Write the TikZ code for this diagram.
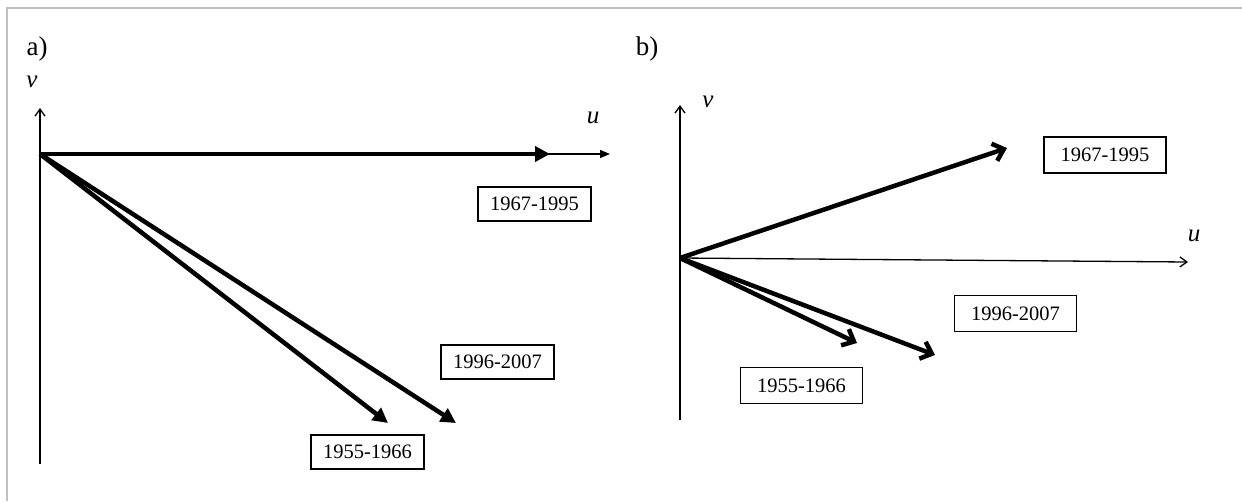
\documentclass[tikz,border=0pt]{standalone}
\usepackage{fontspec}
\setmainfont{Liberation Serif}
\usetikzlibrary{arrows.meta}
\begin{document}
\begin{tikzpicture}[x=1pt,y=-1pt,
  thinaxis/.style={line width=1.3pt,-{Straight Barb[length=7pt,width=10pt]}},
  thinfill/.style={line width=1.3pt,-{Triangle[length=10pt,width=8pt]}},
  thickvec/.style={line width=4.5pt,-{Triangle[length=15pt,width=15pt]}},
  thickbarb/.style={line width=4.5pt,-{Straight Barb[length=10pt,width=18pt,line width=4.5pt]}},
  yearbox/.style={draw,line width=1.1pt,inner sep=0pt,font=\fontsize{20.5}{24}\selectfont,minimum width=113pt,minimum height=34pt},
  lab/.style={font=\fontsize{27}{30}\selectfont,inner sep=0pt},
  axlab/.style={font=\fontsize{25}{28}\selectfont\itshape,inner sep=0pt}]
\useasboundingbox (0,0) rectangle (1242,501);
\draw[line width=1.6pt,color={rgb,255:red,192;green,192;blue,192}] (7,501) -- (7,8) -- (1242,8);
% panel a
\coordinate (oa) at (40,154);
\coordinate (va0) at (40,464);
\coordinate (va) at (40,108);
\coordinate (ua) at (610,154);
\coordinate (ta1) at (550,154);
\coordinate (ta2) at (456,423);
\coordinate (ta3) at (388,423);
\node[lab] (la) at (37,49) {a)};
\node[axlab] (lva) at (32,82) {v};
\node[axlab] (lua) at (593,118) {u};
\draw[thinaxis] (va0) -- (va);
\draw[thinfill] (oa) -- (ua);
\draw[thickvec] (oa) -- (ta1);
\draw[thickvec] (oa) -- (ta2);
\draw[thickvec] (oa) -- (ta3);
\node[yearbox] (a1) at (534.5,204) {1967-1995};
\node[yearbox] (a2) at (497.5,362) {1996-2007};
\node[yearbox] (a3) at (367.5,452) {1955-1966};
% panel b
\coordinate (ob) at (680,258);
\coordinate (vb0) at (680,420);
\coordinate (vb) at (680,105);
\coordinate (ub) at (1188,262);
\coordinate (tb1) at (1007,148);
\coordinate (tb2) at (935,355);
\coordinate (tb3) at (857,343);
\node[lab] (lb) at (647,49) {b)};
\node[axlab] (lvb) at (708,102) {v};
\node[axlab] (lub) at (1194,236) {u};
\draw[thinaxis] (vb0) -- (vb);
\draw[thinaxis] (ob) -- (ub);
\draw[thickbarb] (ob) -- (tb1);
\draw[thickbarb] (ob) -- (tb2);
\draw[thickbarb] (ob) -- (tb3);
\node[yearbox,minimum width=122pt,minimum height=36pt] (b1) at (1105,155) {1967-1995};
\node[yearbox,minimum width=122pt,minimum height=36pt] (b2) at (1015.5,313.5) {1996-2007};
\node[yearbox,minimum width=122pt,minimum height=36pt] (b3) at (801.5,385.5) {1955-1966};
\end{tikzpicture}
\end{document}
